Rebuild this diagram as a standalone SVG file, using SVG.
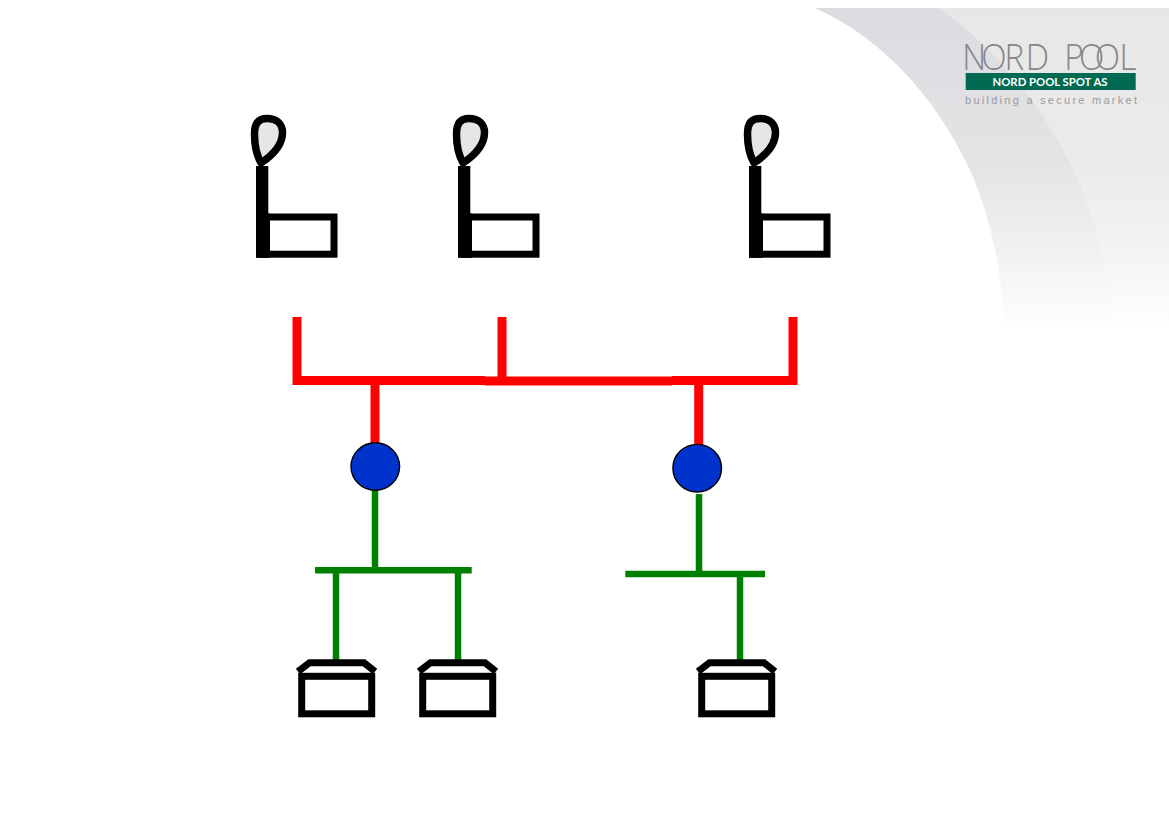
<svg xmlns="http://www.w3.org/2000/svg" xmlns:xlink="http://www.w3.org/1999/xlink" width="1169" height="827" viewBox="0 0 1169 827">
<style>
.red{stroke:#ff0000;stroke-width:9;fill:none}
.green{stroke:#008000;stroke-width:6.5;fill:none}
.hub{fill:#0033cc;stroke:#000;stroke-width:1.4}
text{font-family:"Liberation Sans",Arial,sans-serif}
</style>
<defs>
<linearGradient id="band" gradientUnits="userSpaceOnUse" x1="0" y1="8" x2="0" y2="326">
<stop offset="0" stop-color="#dcdbe0"/><stop offset="0.5" stop-color="#e4e4e6"/><stop offset="0.78" stop-color="#f2f2f3"/><stop offset="1" stop-color="#fefefe"/>
</linearGradient>
<linearGradient id="light" gradientUnits="userSpaceOnUse" x1="0" y1="8" x2="0" y2="326">
<stop offset="0" stop-color="#e7e7e8"/><stop offset="0.5" stop-color="#ebebec"/><stop offset="0.78" stop-color="#f4f4f5"/><stop offset="1" stop-color="#fefefe"/>
</linearGradient>
<g id="chair">
<path d="M261 163C256.500 155 254.500 146 254.500 134C254.500 123 259 118.500 267 118.500C277 118.500 282.500 124.500 282.500 132.500C282.500 144 273 155 261 163Z" fill="#e6e6e6" stroke="#000" stroke-width="7.500" stroke-linejoin="round"/>
<rect x="256" y="166" width="12.300" height="91.700" fill="#000"/>
<rect x="264" y="217" width="70" height="37.200" fill="#fff" stroke="#000" stroke-width="7"/>
<rect x="256" y="213.500" width="14" height="44.200" fill="#000"/>
</g>
<g id="box">
<rect x="301.700" y="676.300" width="70" height="37.500" fill="#fff" stroke="#000" stroke-width="7"/>
<path d="M298 671.500L309.500 662.700H364L375 671.500" fill="none" stroke="#000" stroke-width="7"/>
</g>
</defs>
<g id="background">
<path d="M815 8H1169V326H1004C1002 270 990 215 970 170C935 95 880 37 815 8Z" fill="url(#band)"/>
<path d="M938 8H1169V326H1113C1110 280 1098 230 1080 185C1050 115 1000 50 938 8Z" fill="url(#light)"/>
</g>
<g id="logo">
<text transform="translate(965,70) scale(0.92,1)" x="-3 17.600 43 66 90 108 124 141 168" y="0" font-size="36" font-weight="300" fill="#858688" style="font-family:'Open Sans','Liberation Sans',sans-serif">NORD POOL</text>
<rect x="965.700" y="73" width="170" height="17" fill="#006a53"/>
<text x="1050" y="85.800" font-size="11.500" font-weight="700" fill="#fff" text-anchor="middle" textLength="115" lengthAdjust="spacingAndGlyphs" style="font-family:Lato,'Liberation Sans',sans-serif">NORD POOL SPOT AS</text>
<text x="965" y="103.500" font-size="11" fill="#9a9b9d" textLength="172">building a secure market</text>
</g>
<g id="connectors">
<path class="red" d="M297 317V380.500H485"/>
<path class="red" d="M502 317V381M485 381H672"/>
<path class="red" d="M672 380.500H793V317"/>
<path class="red" d="M375 385V444"/>
<path class="red" d="M698.700 385V446"/>
<path class="green" d="M375 490V570"/>
<path class="green" d="M315 570.300H471.700"/>
<path class="green" d="M336 573V660"/>
<path class="green" d="M458 573V660"/>
<path class="green" d="M699 494V574"/>
<path class="green" d="M625.300 574H765"/>
<path class="green" d="M740 577V662"/>
</g>
<g id="chair-1"><use xlink:href="#chair" href="#chair"/></g>
<g id="chair-2"><use xlink:href="#chair" href="#chair" x="202"/></g>
<g id="chair-3"><use xlink:href="#chair" href="#chair" x="493"/></g>
<g id="hub-1"><ellipse class="hub" cx="375.300" cy="466.500" rx="24.300" ry="23.800"/></g>
<g id="hub-2"><ellipse class="hub" cx="697.200" cy="468.200" rx="24.300" ry="23.800"/></g>
<g id="box-1"><use xlink:href="#box" href="#box"/></g>
<g id="box-2"><use xlink:href="#box" href="#box" x="121"/></g>
<g id="box-3"><use xlink:href="#box" href="#box" x="400"/></g>
</svg>
